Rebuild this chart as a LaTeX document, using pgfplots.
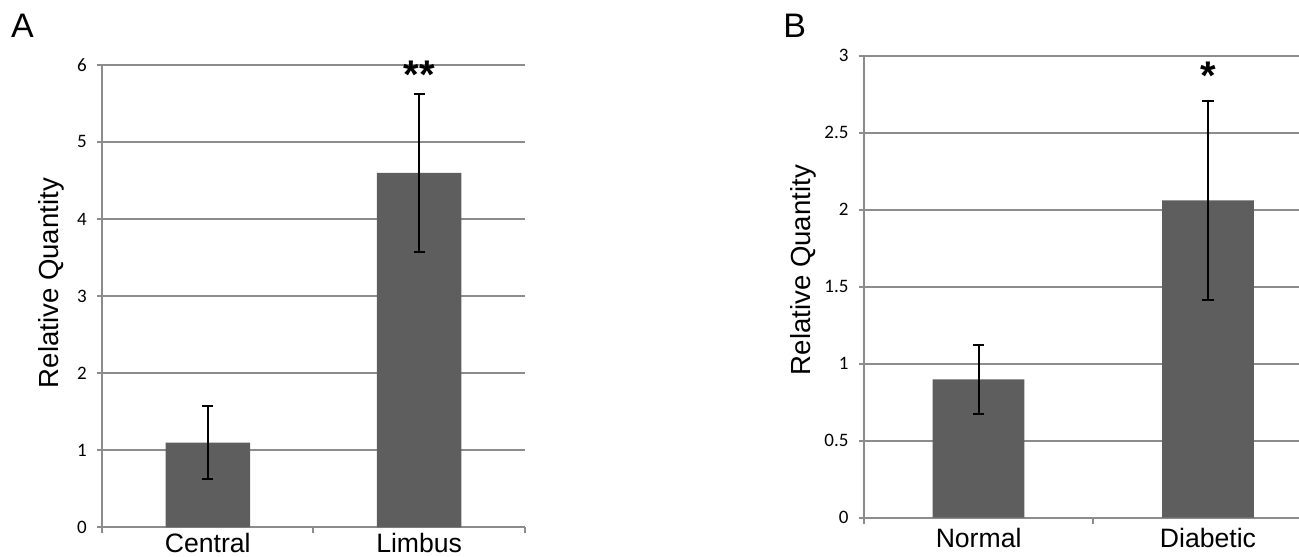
\documentclass[border=0pt]{standalone}
\usepackage{fontspec}
\setmainfont{Liberation Sans}
\newfontfamily\calibri{Carlito}
\usepackage{pgfplots}
\pgfplotsset{compat=1.18}

\definecolor{barcol}{RGB}{94,94,94}
\definecolor{gridcol}{RGB}{140,140,140}

% 1 px of the reference = 0.5pt
\pgfplotsset{
  panel/.style={
    scale only axis,
    anchor=south west,
    axis lines*=left,
    axis line style={gridcol, line width=1pt},
    ymajorgrids, grid style={gridcol, line width=1pt},
    ymin=0,
    xmin=-0.5, xmax=1.5,
    xtick={0,1},
    minor xtick={-0.5,0.5,1.5},
    major x tick style={draw=none},
    minor tick length=3pt,
    major tick length=2.5pt,
    tick align=outside,
    tick style={gridcol, line width=1pt},
    yticklabel style={font=\calibri\fontsize{9.5}{10}\selectfont, inner sep=0pt, xshift=-5pt},
    xticklabel style={font=\fontsize{13.3}{15}\selectfont, inner sep=0pt},
    /pgf/number format/assume math mode=true,
    ylabel={Relative Quantity},
    ylabel style={font=\fontsize{13.8}{15}\selectfont, inner sep=0pt, anchor=south},
    clip=false,
  },
  bars/.style={
    ybar, bar width=0.4, fill=barcol, draw=none,
    error bars/.cd, y dir=both, y explicit,
    error bar style={black, line width=1pt},
    error mark options={black, rotate=90, mark size=2.8pt, line width=1pt},
  },
}

\begin{document}
\begin{tikzpicture}
\path[use as bounding box] (0,0) rectangle (649.5pt,-278pt);
\clip (0,0) rectangle (649.5pt,-278pt);

% Panel A
\begin{axis}[panel,
  at={(51.05pt,-263.65pt)},
  width=211.35pt, height=231.2pt,
  ymax=6, ytick={0,1,...,6},
  xticklabels={Central, Limbus},
  xticklabel style={yshift=-0.5pt},
  ylabel style={at={(rel axis cs:-0.088,0.528)}},
]
\addplot[bars] coordinates {
  (0,1.10) +- (0,0.477)
  (1,4.60) +- (0,1.022)
};
\node[font=\bfseries\fontsize{20}{21}\selectfont, inner sep=0pt, anchor=north]
  at (axis cs:1,6.05) {**};
\end{axis}

% Panel B
\begin{axis}[panel,
  at={(431.95pt,-258.85pt)},
  width=229.4pt, height=231pt,
  ymax=3, ytick={0,0.5,...,3},
  xticklabels={Normal, Diabetic},
  xticklabel style={yshift=-2.5pt},
  ylabel style={at={(rel axis cs:-0.102,0.536)}},
]
\addplot[bars] coordinates {
  (0,0.898) +- (0,0.226)
  (1,2.060) +- (0,0.644)
};
\node[font=\bfseries\fontsize{20}{21}\selectfont, inner sep=0pt, anchor=north]
  at (axis cs:1,2.96) {*};
\end{axis}

\node[font=\fontsize{17}{18}\selectfont, inner sep=0pt, anchor=base west] at (5.3pt,-18.6pt) {A};
\node[font=\fontsize{17}{18}\selectfont, inner sep=0pt, anchor=base west] at (391.5pt,-18.6pt) {B};
\end{tikzpicture}
\end{document}
